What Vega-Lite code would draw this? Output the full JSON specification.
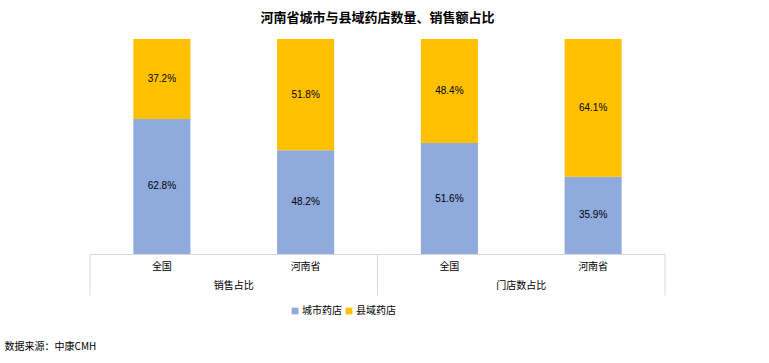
{
  "$schema": "https://vega.github.io/schema/vega-lite/v6.json",
  "width": 575,
  "height": 215,
  "autosize": {"type": "none"},
  "padding": {"left": 90, "top": 39, "right": 104, "bottom": 109},
  "background": "white",
  "config": {
    "view": {"stroke": null},
    "font": "Noto Sans CJK SC"
  },
  "title": {
    "text": "河南省城市与县域药店数量、销售额占比",
    "fontSize": 13,
    "fontWeight": "bold",
    "color": "#000000",
    "font": "Noto Sans CJK SC",
    "offset": 14,
    "anchor": "middle"
  },
  "datasets": {
    "bars": [
      {"cat": "销售占比-全国", "group": "销售占比", "region": "全国", "type": "城市药店", "value": 0.628, "label": "62.8%"},
      {"cat": "销售占比-全国", "group": "销售占比", "region": "全国", "type": "县域药店", "value": 0.372, "label": "37.2%"},
      {"cat": "销售占比-河南省", "group": "销售占比", "region": "河南省", "type": "城市药店", "value": 0.482, "label": "48.2%"},
      {"cat": "销售占比-河南省", "group": "销售占比", "region": "河南省", "type": "县域药店", "value": 0.518, "label": "51.8%"},
      {"cat": "门店数占比-全国", "group": "门店数占比", "region": "全国", "type": "城市药店", "value": 0.516, "label": "51.6%"},
      {"cat": "门店数占比-全国", "group": "门店数占比", "region": "全国", "type": "县域药店", "value": 0.484, "label": "48.4%"},
      {"cat": "门店数占比-河南省", "group": "门店数占比", "region": "河南省", "type": "城市药店", "value": 0.359, "label": "35.9%"},
      {"cat": "门店数占比-河南省", "group": "门店数占比", "region": "河南省", "type": "县域药店", "value": 0.641, "label": "64.1%"}
    ],
    "groups": [
      {"group": "销售占比", "mid": "销售占比-河南省"},
      {"group": "门店数占比", "mid": "门店数占比-河南省"}
    ],
    "seps": [
      {"cat": "销售占比-全国"},
      {"cat": "门店数占比-全国"}
    ],
    "lastsep": [
      {"cat": "门店数占比-河南省"}
    ]
  },
  "layer": [
    {
      "data": {"name": "bars"},
      "mark": {"type": "bar", "width": {"band": 0.397}},
      "encoding": {
        "x": {
          "field": "cat",
          "type": "nominal",
          "sort": ["销售占比-全国", "销售占比-河南省", "门店数占比-全国", "门店数占比-河南省"],
          "scale": {"paddingInner": 0, "paddingOuter": 0},
          "axis": {
            "labelExpr": "split(datum.label, '-')[1]",
            "labelAngle": 0,
            "labelFontSize": 10,
            "labelColor": "#000000",
            "labelFont": "Noto Sans CJK SC",
            "labelPadding": 7,
            "ticks": false,
            "domainColor": "#d9d9d9",
            "domainWidth": 1,
            "grid": false,
            "title": "数据来源：中康CMH",
            "titleFontSize": 10,
            "titleFontWeight": "normal",
            "titleColor": "#000000",
            "titleFont": "Noto Sans CJK SC",
            "titleAlign": "left",
            "titleAnchor": "start",
            "titleBaseline": "middle",
            "titleX": -86,
            "titleY": 92
          }
        },
        "y": {
          "field": "value",
          "type": "quantitative",
          "stack": "zero",
          "scale": {"domain": [0, 1]},
          "axis": null
        },
        "color": {
          "field": "type",
          "type": "nominal",
          "scale": {"domain": ["城市药店", "县域药店"], "range": ["#8faadc", "#ffc000"]},
          "legend": {
            "title": null,
            "orient": "none",
            "direction": "horizontal",
            "legendX": 200,
            "legendY": 267,
            "symbolType": "square",
            "symbolSize": 45,
            "symbolStrokeWidth": 0,
            "labelFontSize": 10,
            "labelColor": "#000000",
            "labelFont": "Noto Sans CJK SC",
            "labelOffset": 2,
            "columnPadding": 2
          }
        },
        "order": {"field": "type", "sort": "descending"}
      }
    },
    {
      "data": {"name": "bars"},
      "mark": {"type": "text", "fontSize": 10, "color": "#000000", "font": "Liberation Sans"},
      "encoding": {
        "x": {"field": "cat", "type": "nominal", "sort": ["销售占比-全国", "销售占比-河南省", "门店数占比-全国", "门店数占比-河南省"]},
        "y": {"field": "value", "type": "quantitative", "stack": "zero", "bandPosition": 0.5},
        "detail": {"field": "type"},
        "order": {"field": "type", "sort": "descending"},
        "text": {"field": "label"}
      }
    },
    {
      "data": {"name": "seps"},
      "mark": {"type": "rule", "color": "#d9d9d9", "strokeWidth": 1},
      "encoding": {
        "x": {"field": "cat", "type": "nominal", "bandPosition": 0, "sort": ["销售占比-全国", "销售占比-河南省", "门店数占比-全国", "门店数占比-河南省"]},
        "y": {"datum": 0, "type": "quantitative"},
        "y2": {"datum": -0.193}
      }
    },
    {
      "data": {"name": "lastsep"},
      "mark": {"type": "rule", "color": "#d9d9d9", "strokeWidth": 1},
      "encoding": {
        "x": {"field": "cat", "type": "nominal", "bandPosition": 1, "sort": ["销售占比-全国", "销售占比-河南省", "门店数占比-全国", "门店数占比-河南省"]},
        "y": {"datum": 0, "type": "quantitative"},
        "y2": {"datum": -0.193}
      }
    },
    {
      "data": {"name": "groups"},
      "mark": {"type": "text", "fontSize": 10, "color": "#000000", "font": "Noto Sans CJK SC", "baseline": "middle"},
      "encoding": {
        "x": {"field": "mid", "type": "nominal", "bandPosition": 0, "sort": ["销售占比-全国", "销售占比-河南省", "门店数占比-全国", "门店数占比-河南省"]},
        "y": {"datum": -0.149, "type": "quantitative"},
        "text": {"field": "group"}
      }
    }
  ]
}
